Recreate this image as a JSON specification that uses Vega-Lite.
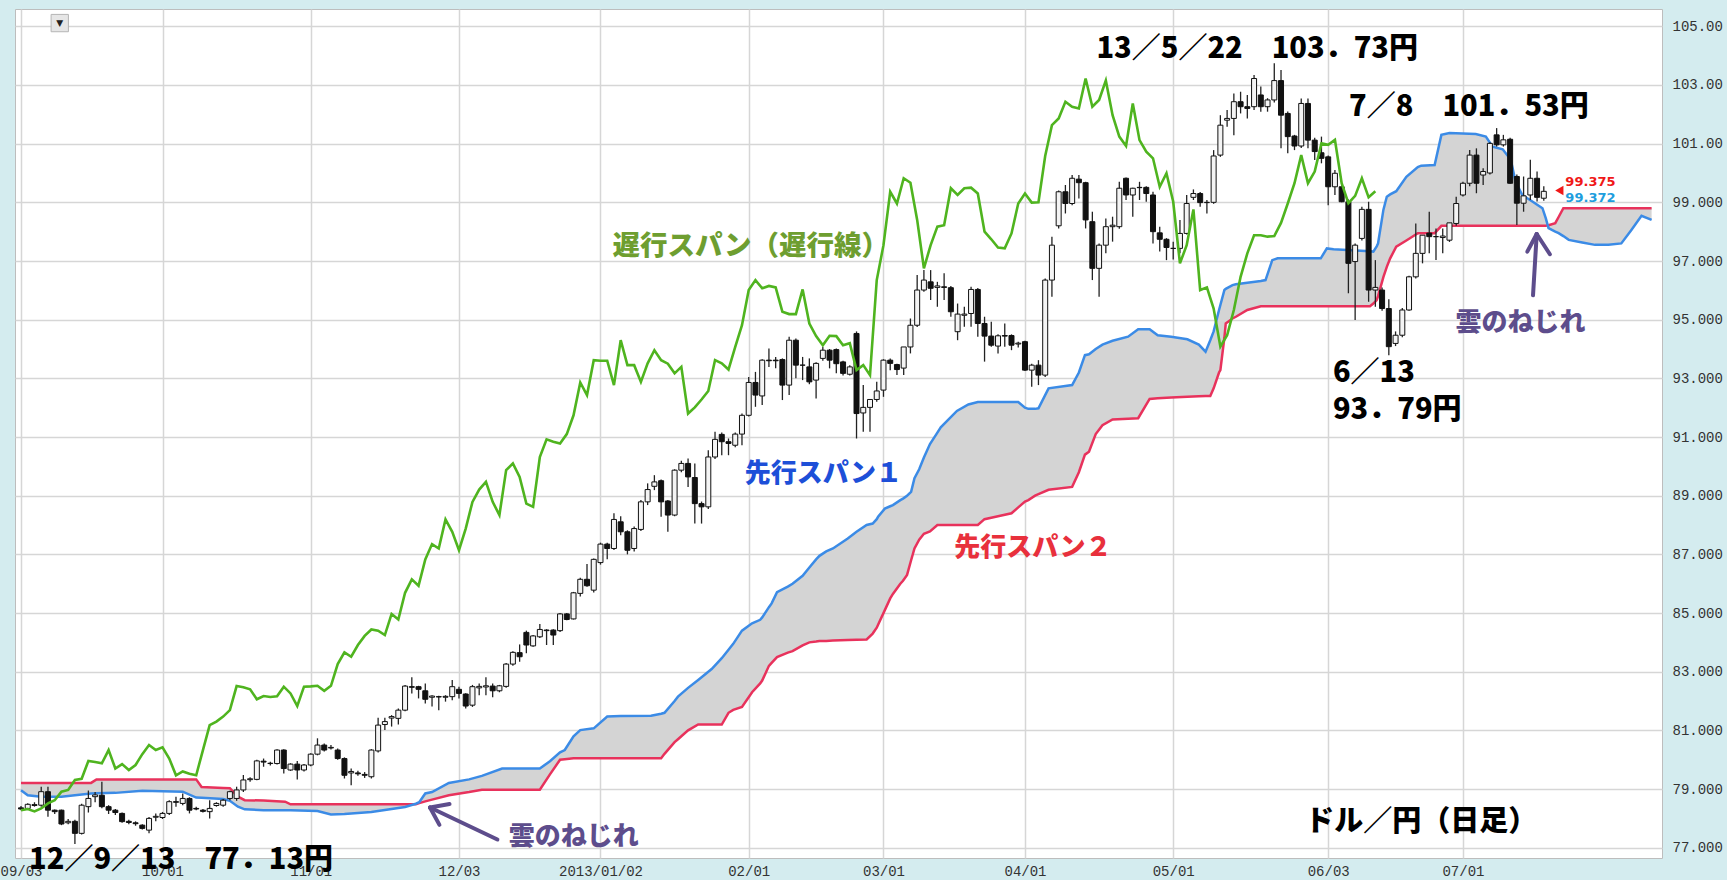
{
"$schema":"https://vega.github.io/schema/vega-lite/v6.json",
"width":1647,"height":849,
"autosize":{"type":"none"},
"padding":{"left":15,"top":9,"right":65,"bottom":22},
"background":"#d4ecef",
"config":{"view":{"fill":"#ffffff","stroke":"#bdbdbd","strokeWidth":1},
 "axisX":{"grid":true,"gridColor":"#d6d6d6","gridWidth":1.5,"domain":false,"ticks":false,"labelFont":"Liberation Mono","labelFontSize":14,"labelColor":"#333333","labelPadding":6,"labelFlush":6,"labelOverlap":false},
 "axisY":{"grid":true,"gridColor":"#d6d6d6","gridWidth":1.5,"domain":false,"ticks":false,"labelFont":"Liberation Mono","labelFontSize":14,"labelColor":"#333333","labelPadding":10,"labelOverlap":false}
},
"datasets":{
"cloud":[
{"i":0,"s1":78.96,"s2":79.21},{"i":1,"s1":78.79,"s2":79.21},{"i":3,"s1":78.74,"s2":79.21},{"i":6,"s1":78.74,"s2":79.21},{"i":8,"s1":78.79,"s2":79.21},{"i":10.4,"s1":78.85,"s2":79.21},{"i":11.2,"s1":78.86,"s2":79.33},{"i":14,"s1":78.87,"s2":79.33},{"i":18,"s1":78.94,"s2":79.33},{"i":24,"s1":78.91,"s2":79.33},{"i":26,"s1":78.71,"s2":79.33},{"i":26.8,"s1":78.70,"s2":79.07},{"i":30,"s1":78.66,"s2":79.04},{"i":31,"s1":78.60,"s2":79.03},{"i":32.2,"s1":78.40,"s2":78.74},{"i":33.2,"s1":78.31,"s2":78.62},{"i":36,"s1":78.28,"s2":78.61},{"i":39.2,"s1":78.28,"s2":78.57},{"i":40,"s1":78.28,"s2":78.48},{"i":44,"s1":78.25,"s2":78.48},{"i":46,"s1":78.13,"s2":78.48},{"i":48,"s1":78.15,"s2":78.48},{"i":52,"s1":78.22,"s2":78.48},{"i":57,"s1":78.39,"s2":78.48},{"i":58.6,"s1":78.50,"s2":78.48},{"i":59.1,"s1":78.55,"s2":78.52},{"i":60,"s1":78.85,"s2":78.58},{"i":61,"s1":78.90,"s2":78.64},{"i":63.5,"s1":79.21,"s2":78.79},{"i":66.5,"s1":79.33,"s2":78.90},{"i":68.4,"s1":79.45,"s2":78.98},{"i":71.4,"s1":79.70,"s2":78.98},{"i":77,"s1":79.70,"s2":78.98},{"i":78.5,"s1":79.95,"s2":79.5},{"i":80,"s1":80.25,"s2":80.0},{"i":80.7,"s1":80.33,"s2":80.02},{"i":82,"s1":80.80,"s2":80.05},{"i":83,"s1":81.01,"s2":80.05},{"i":85,"s1":81.07,"s2":80.05},{"i":87,"s1":81.47,"s2":80.05},{"i":89,"s1":81.49,"s2":80.05},{"i":93.5,"s1":81.50,"s2":80.05},{"i":95,"s1":81.57,"s2":80.05},{"i":95.5,"s1":81.60,"s2":80.2},{"i":97,"s1":82.0,"s2":80.6},{"i":97.5,"s1":82.15,"s2":80.7},{"i":99,"s1":82.45,"s2":81.0},{"i":100.5,"s1":82.72,"s2":81.2},{"i":102.5,"s1":83.09,"s2":81.2},{"i":104,"s1":83.46,"s2":81.2},{"i":105,"s1":83.75,"s2":81.6},{"i":105.7,"s1":83.95,"s2":81.7},{"i":107,"s1":84.40,"s2":81.8},{"i":108.5,"s1":84.65,"s2":82.3},{"i":109.7,"s1":84.77,"s2":82.6},{"i":110,"s1":84.85,"s2":82.7},{"i":111,"s1":85.2,"s2":83.2},{"i":111.4,"s1":85.33,"s2":83.3},{"i":112.2,"s1":85.71,"s2":83.5},{"i":113.8,"s1":85.9,"s2":83.65},{"i":114.5,"s1":86.0,"s2":83.7},{"i":116,"s1":86.27,"s2":83.9},{"i":117,"s1":86.55,"s2":84.0},{"i":118,"s1":86.83,"s2":84.03},{"i":118.5,"s1":86.95,"s2":84.05},{"i":119.5,"s1":87.10,"s2":84.05},{"i":120.5,"s1":87.20,"s2":84.06},{"i":122.7,"s1":87.54,"s2":84.08},{"i":124,"s1":87.77,"s2":84.09},{"i":125.5,"s1":88.0,"s2":84.1},{"i":126.4,"s1":88.05,"s2":84.3},{"i":127,"s1":88.2,"s2":84.5},{"i":127.2,"s1":88.28,"s2":84.6},{"i":128.2,"s1":88.56,"s2":85.1},{"i":129,"s1":88.64,"s2":85.5},{"i":129.4,"s1":88.68,"s2":85.65},{"i":130.5,"s1":88.85,"s2":86.0},{"i":130.9,"s1":88.9,"s2":86.1},{"i":131.5,"s1":89.0,"s2":86.3},{"i":132.1,"s1":89.13,"s2":86.8},{"i":132.6,"s1":89.6,"s2":87.2},{"i":133.3,"s1":89.9,"s2":87.5},{"i":134,"s1":90.3,"s2":87.7},{"i":134.9,"s1":90.76,"s2":87.78},{"i":136,"s1":91.15,"s2":88.0},{"i":136.5,"s1":91.33,"s2":88.0},{"i":138.9,"s1":91.89,"s2":88.0},{"i":140.6,"s1":92.11,"s2":88.0},{"i":142,"s1":92.19,"s2":88.0},{"i":143,"s1":92.19,"s2":88.2},{"i":145,"s1":92.19,"s2":88.3},{"i":147,"s1":92.19,"s2":88.4},{"i":148,"s1":92.19,"s2":88.6},{"i":149,"s1":92.0,"s2":88.8},{"i":149.5,"s1":91.96,"s2":88.85},{"i":150.5,"s1":91.96,"s2":89.0},{"i":151,"s1":91.98,"s2":89.05},{"i":152.5,"s1":92.66,"s2":89.2},{"i":156,"s1":92.77,"s2":89.3},{"i":157,"s1":93.2,"s2":89.8},{"i":157.9,"s1":93.79,"s2":90.4},{"i":158.5,"s1":93.82,"s2":90.5},{"i":159.5,"s1":94.0,"s2":91.1},{"i":160.5,"s1":94.15,"s2":91.4},{"i":162,"s1":94.28,"s2":91.6},{"i":164.3,"s1":94.42,"s2":91.62},{"i":165.8,"s1":94.67,"s2":91.64},{"i":167.5,"s1":94.67,"s2":92.3},{"i":168.7,"s1":94.47,"s2":92.32},{"i":170.7,"s1":94.42,"s2":92.35},{"i":173.1,"s1":94.33,"s2":92.37},{"i":174.8,"s1":94.15,"s2":92.39},{"i":175.8,"s1":93.91,"s2":92.4},{"i":176.5,"s1":94.3,"s2":92.4},{"i":177,"s1":94.6,"s2":92.66},{"i":177.8,"s1":95.33,"s2":93.2},{"i":178,"s1":95.5,"s2":93.28},{"i":178.6,"s1":96.01,"s2":94.4},{"i":178.8,"s1":96.05,"s2":94.87},{"i":179.8,"s1":96.18,"s2":95.04},{"i":180.3,"s1":96.21,"s2":95.1},{"i":182,"s1":96.26,"s2":95.33},{"i":184,"s1":96.32,"s2":95.46},{"i":184.7,"s1":96.35,"s2":95.46},{"i":185.7,"s1":97.03,"s2":95.46},{"i":186.5,"s1":97.09,"s2":95.46},{"i":192.9,"s1":97.09,"s2":95.46},{"i":193.8,"s1":97.43,"s2":95.46},{"i":194.8,"s1":97.40,"s2":95.46},{"i":200.2,"s1":97.33,"s2":95.46},{"i":200.7,"s1":97.32,"s2":95.55},{"i":201.2,"s1":97.5,"s2":95.67},{"i":201.4,"s1":97.6,"s2":95.8},{"i":202.2,"s1":98.75,"s2":96.46},{"i":202.7,"s1":99.19,"s2":96.8},{"i":203.2,"s1":99.27,"s2":97.09},{"i":204.1,"s1":99.38,"s2":97.49},{"i":205.6,"s1":99.87,"s2":97.7},{"i":207.3,"s1":100.2,"s2":97.95},{"i":207.8,"s1":100.25,"s2":97.95},{"i":209.8,"s1":100.27,"s2":97.95},{"i":210.8,"s1":101.3,"s2":98.2},{"i":212,"s1":101.36,"s2":98.2},{"i":215.9,"s1":101.33,"s2":98.2},{"i":217.4,"s1":101.24,"s2":98.2},{"i":218.4,"s1":100.9,"s2":98.2},{"i":219.9,"s1":100.81,"s2":98.2},{"i":221.1,"s1":100.45,"s2":98.2},{"i":221.8,"s1":99.71,"s2":98.2},{"i":222.8,"s1":99.25,"s2":98.2},{"i":224.3,"s1":99.03,"s2":98.2},{"i":225.8,"s1":98.8,"s2":98.2},{"i":226.3,"s1":98.45,"s2":98.2},{"i":226.7,"s1":98.12,"s2":98.22},{"i":227.7,"s1":98.0,"s2":98.29},{"i":228.2,"s1":97.95,"s2":98.5},{"i":228.9,"s1":97.85,"s2":98.8},{"i":229.7,"s1":97.72,"s2":98.8},{"i":231.7,"s1":97.63,"s2":98.8},{"i":233.6,"s1":97.55,"s2":98.8},{"i":235.6,"s1":97.55,"s2":98.8},{"i":237.5,"s1":97.6,"s2":98.8},{"i":239,"s1":98.06,"s2":98.8},{"i":240.5,"s1":98.54,"s2":98.8},{"i":242,"s1":98.4,"s2":98.8}
],
"candles":[
{"i":0,"o":78.36,"h":78.42,"l":78.28,"c":78.32},{"i":1,"o":78.34,"h":78.52,"l":78.30,"c":78.48},{"i":2,"o":78.44,"h":78.55,"l":78.40,"c":78.47},{"i":3,"o":78.45,"h":79.08,"l":78.40,"c":78.91},{"i":4,"o":78.91,"h":79.08,"l":78.06,"c":78.28},{"i":5,"o":78.28,"h":78.30,"l":78.15,"c":78.23},{"i":6,"o":78.28,"h":78.30,"l":77.77,"c":77.81},{"i":7,"o":77.85,"h":77.98,"l":77.80,"c":77.90},{"i":8,"o":77.90,"h":77.95,"l":77.13,"c":77.49},{"i":9,"o":77.49,"h":78.50,"l":77.45,"c":78.45},
{"i":10,"o":78.40,"h":78.95,"l":78.20,"c":78.68},{"i":11,"o":78.74,"h":78.90,"l":78.55,"c":78.80},{"i":12,"o":78.79,"h":79.25,"l":78.35,"c":78.40},{"i":13,"o":78.40,"h":78.45,"l":78.15,"c":78.28},{"i":14,"o":78.28,"h":78.32,"l":78.12,"c":78.20},{"i":15,"o":78.17,"h":78.20,"l":77.85,"c":77.89},{"i":16,"o":77.90,"h":77.95,"l":77.80,"c":77.86},{"i":17,"o":77.85,"h":77.90,"l":77.75,"c":77.82},{"i":18,"o":77.77,"h":77.80,"l":77.62,"c":77.66},{"i":19,"o":77.60,"h":78.05,"l":77.49,"c":78.00},
{"i":20,"o":78.04,"h":78.17,"l":77.90,"c":78.07},{"i":21,"o":78.03,"h":78.22,"l":77.98,"c":78.17},{"i":22,"o":78.17,"h":78.62,"l":78.12,"c":78.57},{"i":23,"o":78.57,"h":78.74,"l":78.40,"c":78.55},{"i":24,"o":78.51,"h":78.85,"l":78.45,"c":78.68},{"i":25,"o":78.68,"h":78.72,"l":78.17,"c":78.28},{"i":26,"o":78.34,"h":78.40,"l":78.28,"c":78.32},{"i":27,"o":78.28,"h":78.32,"l":78.20,"c":78.24},{"i":28,"o":78.23,"h":78.62,"l":78.00,"c":78.34},{"i":29,"o":78.44,"h":78.55,"l":78.40,"c":78.51},
{"i":30,"o":78.45,"h":78.66,"l":78.40,"c":78.62},{"i":31,"o":78.68,"h":78.94,"l":78.62,"c":78.91},{"i":32,"o":78.68,"h":79.08,"l":78.60,"c":78.97},{"i":33,"o":78.97,"h":79.48,"l":78.90,"c":79.31},{"i":34,"o":79.32,"h":79.40,"l":79.25,"c":79.35},{"i":35,"o":79.33,"h":80.00,"l":79.30,"c":79.96},{"i":36,"o":79.95,"h":80.04,"l":79.76,"c":79.92},{"i":37,"o":79.87,"h":79.93,"l":79.80,"c":79.88},{"i":38,"o":79.87,"h":80.36,"l":79.84,"c":80.33},{"i":39,"o":80.33,"h":80.36,"l":79.53,"c":79.70},
{"i":40,"o":79.65,"h":79.88,"l":79.62,"c":79.85},{"i":41,"o":79.85,"h":79.96,"l":79.33,"c":79.65},{"i":42,"o":79.65,"h":79.85,"l":79.60,"c":79.82},{"i":43,"o":79.82,"h":80.22,"l":79.78,"c":80.19},{"i":44,"o":80.19,"h":80.73,"l":80.15,"c":80.50},{"i":45,"o":80.50,"h":80.55,"l":80.28,"c":80.33},{"i":46,"o":80.40,"h":80.50,"l":80.35,"c":80.42},{"i":47,"o":80.33,"h":80.38,"l":80.00,"c":80.04},{"i":48,"o":80.04,"h":80.08,"l":79.36,"c":79.47},{"i":49,"o":79.55,"h":79.70,"l":79.13,"c":79.60},
{"i":50,"o":79.55,"h":79.62,"l":79.45,"c":79.52},{"i":51,"o":79.50,"h":79.58,"l":79.38,"c":79.47},{"i":52,"o":79.42,"h":80.36,"l":79.36,"c":80.33},{"i":53,"o":80.30,"h":81.43,"l":80.25,"c":81.18},{"i":54,"o":81.20,"h":81.43,"l":81.01,"c":81.30},{"i":55,"o":81.42,"h":81.52,"l":81.13,"c":81.47},{"i":56,"o":81.41,"h":81.75,"l":81.20,"c":81.69},{"i":57,"o":81.69,"h":82.55,"l":81.65,"c":82.51},{"i":58,"o":82.49,"h":82.81,"l":82.26,"c":82.47},{"i":59,"o":82.49,"h":82.52,"l":82.09,"c":82.40},
{"i":60,"o":82.35,"h":82.60,"l":81.92,"c":82.06},{"i":61,"o":82.13,"h":82.20,"l":81.81,"c":82.17},{"i":62,"o":82.15,"h":82.18,"l":81.69,"c":82.14},{"i":63,"o":82.13,"h":82.20,"l":81.98,"c":82.16},{"i":64,"o":82.15,"h":82.72,"l":82.03,"c":82.49},{"i":65,"o":82.40,"h":82.49,"l":82.09,"c":82.26},{"i":66,"o":82.24,"h":82.27,"l":81.75,"c":81.83},{"i":67,"o":81.86,"h":82.55,"l":81.80,"c":82.49},{"i":68,"o":82.45,"h":82.60,"l":82.20,"c":82.50},{"i":69,"o":82.48,"h":82.81,"l":82.20,"c":82.52},
{"i":70,"o":82.51,"h":82.60,"l":82.13,"c":82.35},{"i":71,"o":82.35,"h":82.55,"l":82.30,"c":82.52},{"i":72,"o":82.50,"h":83.30,"l":82.45,"c":83.26},{"i":73,"o":83.26,"h":83.70,"l":83.20,"c":83.66},{"i":74,"o":83.65,"h":83.93,"l":83.34,"c":83.51},{"i":75,"o":84.34,"h":84.40,"l":83.63,"c":83.91},{"i":76,"o":83.88,"h":84.25,"l":83.85,"c":84.22},{"i":77,"o":84.19,"h":84.63,"l":84.15,"c":84.44},{"i":78,"o":84.42,"h":84.45,"l":83.91,"c":84.40},{"i":79,"o":84.42,"h":84.45,"l":83.91,"c":84.25},
{"i":80,"o":84.40,"h":85.00,"l":84.35,"c":84.97},{"i":81,"o":84.97,"h":85.00,"l":84.75,"c":84.78},{"i":82,"o":84.80,"h":85.72,"l":84.78,"c":85.69},{"i":83,"o":85.67,"h":86.20,"l":85.56,"c":86.15},{"i":84,"o":86.15,"h":86.67,"l":85.90,"c":85.93},{"i":85,"o":85.78,"h":86.86,"l":85.70,"c":86.83},{"i":86,"o":86.72,"h":87.40,"l":86.65,"c":87.35},{"i":87,"o":87.35,"h":87.40,"l":86.83,"c":87.20},{"i":88,"o":87.20,"h":88.40,"l":87.15,"c":88.19},{"i":89,"o":88.11,"h":88.30,"l":87.65,"c":87.77},
{"i":90,"o":87.77,"h":87.82,"l":87.00,"c":87.14},{"i":91,"o":87.20,"h":87.95,"l":87.10,"c":87.88},{"i":92,"o":87.85,"h":88.85,"l":87.80,"c":88.79},{"i":93,"o":88.79,"h":89.42,"l":88.68,"c":89.21},{"i":94,"o":89.32,"h":89.70,"l":89.19,"c":89.47},{"i":95,"o":89.51,"h":89.55,"l":88.28,"c":88.79},{"i":96,"o":88.82,"h":88.85,"l":87.77,"c":88.34},{"i":97,"o":88.34,"h":89.90,"l":88.30,"c":89.87},{"i":98,"o":89.87,"h":90.19,"l":89.80,"c":90.10},{"i":99,"o":90.10,"h":90.27,"l":89.30,"c":89.64},
{"i":100,"o":89.62,"h":90.10,"l":88.05,"c":88.73},{"i":101,"o":88.73,"h":88.80,"l":88.05,"c":88.62},{"i":102,"o":88.62,"h":90.55,"l":88.55,"c":90.32},{"i":103,"o":90.32,"h":91.18,"l":90.25,"c":90.92},{"i":104,"o":91.09,"h":91.15,"l":90.38,"c":90.84},{"i":105,"o":90.84,"h":90.95,"l":90.38,"c":90.78},{"i":106,"o":90.72,"h":91.15,"l":90.65,"c":91.10},{"i":107,"o":91.10,"h":91.80,"l":90.72,"c":91.74},{"i":108,"o":91.74,"h":93.05,"l":91.70,"c":92.86},{"i":109,"o":92.86,"h":93.22,"l":92.03,"c":92.43},
{"i":110,"o":92.40,"h":93.65,"l":92.09,"c":93.62},{"i":111,"o":93.62,"h":94.02,"l":93.39,"c":93.60},{"i":112,"o":93.62,"h":93.73,"l":93.34,"c":93.60},{"i":113,"o":93.64,"h":93.68,"l":92.26,"c":92.77},{"i":114,"o":92.77,"h":94.42,"l":92.43,"c":94.30},{"i":115,"o":94.30,"h":94.36,"l":93.00,"c":93.45},{"i":116,"o":93.45,"h":93.73,"l":92.94,"c":93.45},{"i":117,"o":93.39,"h":93.68,"l":92.80,"c":92.88},{"i":118,"o":92.94,"h":93.55,"l":92.31,"c":93.51},{"i":119,"o":93.68,"h":94.07,"l":93.60,"c":93.96},
{"i":120,"o":93.96,"h":94.00,"l":93.34,"c":93.62},{"i":121,"o":93.98,"h":94.02,"l":93.17,"c":93.50},{"i":122,"o":93.56,"h":93.60,"l":93.10,"c":93.17},{"i":123,"o":93.14,"h":93.45,"l":93.10,"c":93.39},{"i":124,"o":94.53,"h":94.60,"l":90.95,"c":91.80},{"i":125,"o":91.82,"h":92.77,"l":91.18,"c":92.01},{"i":126,"o":92.01,"h":92.30,"l":91.18,"c":92.28},{"i":127,"o":92.28,"h":92.88,"l":92.20,"c":92.57},{"i":128,"o":92.60,"h":93.65,"l":92.37,"c":93.62},{"i":129,"o":93.62,"h":93.68,"l":93.28,"c":93.51},
{"i":130,"o":93.47,"h":93.50,"l":93.11,"c":93.30},{"i":131,"o":93.35,"h":94.07,"l":93.11,"c":94.07},{"i":132,"o":94.07,"h":95.04,"l":93.85,"c":94.81},{"i":133,"o":94.81,"h":96.52,"l":94.75,"c":96.01},{"i":134,"o":96.01,"h":96.69,"l":95.95,"c":96.35},{"i":135,"o":96.29,"h":96.69,"l":95.67,"c":96.07},{"i":136,"o":96.10,"h":96.29,"l":95.44,"c":96.15},{"i":137,"o":96.12,"h":96.58,"l":95.67,"c":96.10},{"i":138,"o":96.09,"h":96.15,"l":95.10,"c":95.27},{"i":139,"o":94.59,"h":95.55,"l":94.30,"c":95.19},
{"i":140,"o":95.15,"h":95.44,"l":94.76,"c":95.19},{"i":141,"o":95.21,"h":96.12,"l":94.76,"c":96.03},{"i":142,"o":96.03,"h":96.08,"l":94.42,"c":94.87},{"i":143,"o":94.87,"h":95.10,"l":93.57,"c":94.44},{"i":144,"o":94.44,"h":94.93,"l":94.08,"c":94.13},{"i":145,"o":94.10,"h":94.50,"l":93.85,"c":94.45},{"i":146,"o":94.46,"h":94.87,"l":94.08,"c":94.44},{"i":147,"o":94.46,"h":94.50,"l":93.96,"c":94.13},{"i":148,"o":94.17,"h":94.25,"l":94.05,"c":94.20},{"i":149,"o":94.25,"h":94.28,"l":93.25,"c":93.28},
{"i":150,"o":93.28,"h":93.50,"l":92.71,"c":93.45},{"i":151,"o":93.45,"h":93.62,"l":92.77,"c":93.11},{"i":152,"o":93.11,"h":96.40,"l":93.05,"c":96.35},{"i":153,"o":96.35,"h":97.83,"l":95.78,"c":97.54},{"i":154,"o":98.20,"h":99.40,"l":98.11,"c":99.36},{"i":155,"o":99.36,"h":99.59,"l":98.62,"c":98.96},{"i":156,"o":98.96,"h":99.93,"l":98.90,"c":99.82},{"i":157,"o":99.79,"h":99.93,"l":99.13,"c":99.67},{"i":158,"o":99.67,"h":99.70,"l":98.11,"c":98.40},{"i":159,"o":98.34,"h":98.68,"l":96.35,"c":96.75},
{"i":160,"o":96.75,"h":97.60,"l":95.78,"c":97.54},{"i":161,"o":97.54,"h":98.45,"l":97.26,"c":98.17},{"i":162,"o":98.17,"h":98.51,"l":97.66,"c":98.22},{"i":163,"o":98.17,"h":99.70,"l":98.10,"c":99.48},{"i":164,"o":99.82,"h":99.85,"l":99.08,"c":99.25},{"i":165,"o":99.25,"h":99.50,"l":98.51,"c":99.48},{"i":166,"o":99.51,"h":99.70,"l":99.08,"c":99.50},{"i":167,"o":99.51,"h":99.55,"l":99.02,"c":99.30},{"i":168,"o":99.25,"h":99.36,"l":97.60,"c":98.00},{"i":169,"o":97.96,"h":98.17,"l":97.32,"c":97.74},
{"i":170,"o":97.74,"h":97.78,"l":97.03,"c":97.46},{"i":171,"o":97.43,"h":97.66,"l":97.05,"c":97.43},{"i":172,"o":97.43,"h":98.40,"l":97.26,"c":97.94},{"i":173,"o":97.94,"h":99.25,"l":97.90,"c":98.96},{"i":174,"o":99.17,"h":99.44,"l":99.08,"c":99.30},{"i":175,"o":99.30,"h":99.35,"l":98.85,"c":98.99},{"i":176,"o":98.99,"h":99.08,"l":98.62,"c":99.00},{"i":177,"o":99.00,"h":100.78,"l":98.95,"c":100.58},{"i":178,"o":100.61,"h":101.97,"l":100.55,"c":101.63},{"i":179,"o":101.80,"h":102.15,"l":101.58,"c":101.86},
{"i":180,"o":101.86,"h":102.71,"l":101.29,"c":102.43},{"i":181,"o":102.43,"h":102.77,"l":102.03,"c":102.26},{"i":182,"o":102.26,"h":102.66,"l":101.86,"c":102.20},{"i":183,"o":102.26,"h":103.34,"l":102.15,"c":103.22},{"i":184,"o":102.66,"h":102.95,"l":102.09,"c":102.26},{"i":185,"o":102.26,"h":102.55,"l":102.09,"c":102.49},{"i":186,"o":102.49,"h":103.74,"l":102.40,"c":103.15},{"i":187,"o":103.15,"h":103.51,"l":100.84,"c":101.97},{"i":188,"o":102.03,"h":102.10,"l":100.67,"c":101.24},{"i":189,"o":101.26,"h":101.30,"l":100.78,"c":100.92},
{"i":190,"o":100.92,"h":102.54,"l":100.85,"c":102.37},{"i":191,"o":102.37,"h":102.54,"l":100.84,"c":101.12},{"i":192,"o":101.12,"h":101.20,"l":100.44,"c":100.73},{"i":193,"o":100.69,"h":101.24,"l":100.33,"c":100.50},{"i":194,"o":100.55,"h":100.60,"l":98.90,"c":99.53},{"i":195,"o":99.53,"h":100.10,"l":99.25,"c":99.99},{"i":196,"o":99.53,"h":99.60,"l":99.00,"c":99.02},{"i":197,"o":99.02,"h":99.10,"l":95.90,"c":96.92},{"i":198,"o":96.98,"h":97.60,"l":94.99,"c":97.54},{"i":199,"o":97.77,"h":98.85,"l":97.70,"c":98.76},
{"i":200,"o":98.76,"h":99.02,"l":95.61,"c":96.01},{"i":201,"o":96.01,"h":97.03,"l":95.44,"c":96.10},{"i":202,"o":96.01,"h":96.10,"l":95.30,"c":95.38},{"i":203,"o":95.38,"h":95.70,"l":93.79,"c":94.08},{"i":204,"o":94.19,"h":94.60,"l":94.10,"c":94.47},{"i":205,"o":94.47,"h":95.40,"l":94.40,"c":95.33},{"i":206,"o":95.33,"h":96.50,"l":95.30,"c":96.46},{"i":207,"o":96.46,"h":98.28,"l":96.40,"c":97.26},{"i":208,"o":97.26,"h":97.88,"l":96.92,"c":97.88},{"i":209,"o":97.95,"h":98.68,"l":97.26,"c":97.83},
{"i":210,"o":97.83,"h":98.11,"l":97.03,"c":97.83},{"i":211,"o":97.80,"h":98.11,"l":97.26,"c":97.85},{"i":212,"o":97.71,"h":98.30,"l":97.65,"c":98.30},{"i":213,"o":98.28,"h":99.19,"l":98.20,"c":98.96},{"i":214,"o":99.25,"h":99.70,"l":99.20,"c":99.65},{"i":215,"o":99.65,"h":100.78,"l":99.55,"c":100.61},{"i":216,"o":100.61,"h":100.84,"l":99.31,"c":99.65},{"i":217,"o":99.93,"h":100.16,"l":99.59,"c":100.05},{"i":218,"o":100.00,"h":101.05,"l":99.95,"c":101.01},{"i":219,"o":101.30,"h":101.53,"l":100.90,"c":100.96},
{"i":220,"o":100.96,"h":101.30,"l":100.90,"c":101.13},{"i":221,"o":101.15,"h":101.20,"l":99.63,"c":99.65},{"i":222,"o":99.88,"h":99.95,"l":98.23,"c":98.97},{"i":223,"o":98.97,"h":99.88,"l":98.68,"c":99.22},{"i":224,"o":99.25,"h":100.45,"l":99.08,"c":99.82},{"i":225,"o":99.82,"h":100.05,"l":99.03,"c":99.17},{"i":226,"o":99.14,"h":99.55,"l":99.05,"c":99.375}
],
"lag":[
{"i":0,"v":78.28},{"i":1,"v":78.32},{"i":2,"v":78.24},{"i":3,"v":78.34},{"i":4,"v":78.51},{"i":5,"v":78.62},{"i":6,"v":78.91},{"i":7,"v":78.97},{"i":8,"v":79.31},{"i":9,"v":79.35},{"i":10,"v":79.96},{"i":11,"v":79.92},{"i":12,"v":79.88},{"i":13,"v":80.33},{"i":14,"v":79.70},{"i":15,"v":79.85},{"i":16,"v":79.65},{"i":17,"v":79.82},{"i":18,"v":80.19},{"i":19,"v":80.50},{"i":20,"v":80.33},{"i":21,"v":80.42},{"i":22,"v":80.04},{"i":23,"v":79.47},{"i":24,"v":79.60},{"i":25,"v":79.52},{"i":26,"v":79.47},{"i":27,"v":80.33},{"i":28,"v":81.18},{"i":29,"v":81.30},{"i":30,"v":81.47},{"i":31,"v":81.69},{"i":32,"v":82.51},{"i":33,"v":82.47},{"i":34,"v":82.40},{"i":35,"v":82.06},{"i":36,"v":82.17},{"i":37,"v":82.14},{"i":38,"v":82.16},{"i":39,"v":82.49},{"i":40,"v":82.26},{"i":41,"v":81.83},{"i":42,"v":82.49},{"i":43,"v":82.50},{"i":44,"v":82.52},{"i":45,"v":82.35},{"i":46,"v":82.52},{"i":47,"v":83.26},{"i":48,"v":83.66},{"i":49,"v":83.51},{"i":50,"v":83.91},{"i":51,"v":84.22},{"i":52,"v":84.44},{"i":53,"v":84.40},{"i":54,"v":84.25},{"i":55,"v":84.97},{"i":56,"v":84.78},{"i":57,"v":85.69},{"i":58,"v":86.15},{"i":59,"v":85.93},{"i":60,"v":86.83},{"i":61,"v":87.35},{"i":62,"v":87.20},{"i":63,"v":88.19},{"i":64,"v":87.77},{"i":65,"v":87.14},{"i":66,"v":87.88},{"i":67,"v":88.79},{"i":68,"v":89.21},{"i":69,"v":89.47},{"i":70,"v":88.79},{"i":71,"v":88.34},{"i":72,"v":89.87},{"i":73,"v":90.10},{"i":74,"v":89.64},{"i":75,"v":88.73},{"i":76,"v":88.62},{"i":77,"v":90.32},{"i":78,"v":90.92},{"i":79,"v":90.84},{"i":80,"v":90.78},{"i":81,"v":91.10},{"i":82,"v":91.74},{"i":83,"v":92.86},{"i":84,"v":92.43},{"i":85,"v":93.62},{"i":86,"v":93.60},{"i":87,"v":93.60},{"i":88,"v":92.77},{"i":89,"v":94.30},{"i":90,"v":93.45},{"i":91,"v":93.45},{"i":92,"v":92.88},{"i":93,"v":93.51},{"i":94,"v":93.96},{"i":95,"v":93.62},{"i":96,"v":93.50},{"i":97,"v":93.17},{"i":98,"v":93.39},{"i":99,"v":91.80},{"i":100,"v":92.01},{"i":101,"v":92.28},{"i":102,"v":92.57},{"i":103,"v":93.62},{"i":104,"v":93.51},{"i":105,"v":93.30},{"i":106,"v":94.07},{"i":107,"v":94.81},{"i":108,"v":96.01},{"i":109,"v":96.35},{"i":110,"v":96.07},{"i":111,"v":96.15},{"i":112,"v":96.10},{"i":113,"v":95.27},{"i":114,"v":95.19},{"i":115,"v":95.19},{"i":116,"v":96.03},{"i":117,"v":94.87},{"i":118,"v":94.44},{"i":119,"v":94.13},{"i":120,"v":94.45},{"i":121,"v":94.44},{"i":122,"v":94.13},{"i":123,"v":94.20},{"i":124,"v":93.28},{"i":125,"v":93.45},{"i":126,"v":93.11},{"i":127,"v":96.35},{"i":128,"v":97.54},{"i":129,"v":99.36},{"i":130,"v":98.96},{"i":131,"v":99.82},{"i":132,"v":99.67},{"i":133,"v":98.40},{"i":134,"v":96.75},{"i":135,"v":97.54},{"i":136,"v":98.17},{"i":137,"v":98.22},{"i":138,"v":99.48},{"i":139,"v":99.25},{"i":140,"v":99.48},{"i":141,"v":99.50},{"i":142,"v":99.30},{"i":143,"v":98.00},{"i":144,"v":97.74},{"i":145,"v":97.46},{"i":146,"v":97.43},{"i":147,"v":97.94},{"i":148,"v":98.96},{"i":149,"v":99.30},{"i":150,"v":98.99},{"i":151,"v":99.00},{"i":152,"v":100.58},{"i":153,"v":101.63},{"i":154,"v":101.86},{"i":155,"v":102.43},{"i":156,"v":102.26},{"i":157,"v":102.20},{"i":158,"v":103.22},{"i":159,"v":102.26},{"i":160,"v":102.49},{"i":161,"v":103.15},{"i":162,"v":101.97},{"i":163,"v":101.24},{"i":164,"v":100.92},{"i":165,"v":102.37},{"i":166,"v":101.12},{"i":167,"v":100.73},{"i":168,"v":100.50},{"i":169,"v":99.53},{"i":170,"v":99.99},{"i":171,"v":99.02},{"i":172,"v":96.92},{"i":173,"v":97.54},{"i":174,"v":98.76},{"i":175,"v":96.01},{"i":176,"v":96.10},{"i":177,"v":95.38},{"i":178,"v":94.08},{"i":179,"v":94.47},{"i":180,"v":95.33},{"i":181,"v":96.46},{"i":182,"v":97.26},{"i":183,"v":97.88},{"i":184,"v":97.88},{"i":185,"v":97.83},{"i":186,"v":97.85},{"i":187,"v":98.30},{"i":188,"v":98.96},{"i":189,"v":99.65},{"i":190,"v":100.61},{"i":191,"v":99.65},{"i":192,"v":100.05},{"i":193,"v":101.01},{"i":194,"v":100.96},{"i":195,"v":101.13},{"i":196,"v":99.65},{"i":197,"v":98.97},{"i":198,"v":99.22},{"i":199,"v":99.82},{"i":200,"v":99.17},{"i":201,"v":99.375}
]
},
"layer":[
{"data":{"name":"cloud"},"mark":{"type":"area","color":"#d4d4d4","opacity":1},
 "encoding":{
  "x":{"field":"i","type":"quantitative","title":null,"scale":{"domain":[-0.15,242.8],"nice":false,"zero":false},
   "axis":{"orient":"bottom","values":[0,21,43,65,86,108,128,149,171,194,214],"labelExpr":"datum.value==0?'09/03':datum.value==21?'10/01':datum.value==43?'11/01':datum.value==65?'12/03':datum.value==86?'2013/01/02':datum.value==108?'02/01':datum.value==128?'03/01':datum.value==149?'04/01':datum.value==171?'05/01':datum.value==194?'06/03':'07/01'"}},
  "y":{"field":"s1","type":"quantitative","title":null,"scale":{"domain":[76.65,105.59],"nice":false,"zero":false},
   "axis":{"orient":"right","values":[77,79,81,83,85,87,89,91,93,95,97,99,101,103,105],"labelExpr":"datum.value>=100?format(datum.value,'.2f'):format(datum.value,'.3f')"}},
  "y2":{"field":"s2"}}},
{"data":{"name":"cloud"},"mark":{"type":"line","color":"#e8325c","strokeWidth":2.5},
 "encoding":{"x":{"field":"i","type":"quantitative","title":null},"y":{"field":"s2","type":"quantitative","title":null}}},
{"data":{"name":"cloud"},"mark":{"type":"line","color":"#3b8be6","strokeWidth":2.5},
 "encoding":{"x":{"field":"i","type":"quantitative","title":null},"y":{"field":"s1","type":"quantitative","title":null}}},
{"data":{"name":"candles"},"mark":{"type":"rule","color":"#222222","strokeWidth":1.3},
 "encoding":{"x":{"field":"i","type":"quantitative","title":null},"y":{"field":"l","type":"quantitative","title":null},"y2":{"field":"h"}}},
{"data":{"name":"candles"},"mark":{"type":"bar","size":5,"stroke":"#111111","strokeWidth":1},
 "encoding":{"x":{"field":"i","type":"quantitative","title":null},"y":{"field":"o","type":"quantitative","title":null},"y2":{"field":"c"},
  "fill":{"condition":{"test":"datum.c>=datum.o","value":"#f4f4f4"},"value":"#111111"}}},
{"data":{"name":"lag"},"mark":{"type":"line","color":"#4fb41f","strokeWidth":2.6},
 "encoding":{"x":{"field":"i","type":"quantitative","title":null},"y":{"field":"v","type":"quantitative","title":null}}},
{"data":{"values":[
 {"x":60.7,"y":78.37,"x2":70.7,"y2":77.28},{"x":60.7,"y":78.37,"x2":62.1,"y2":77.78},{"x":60.7,"y":78.37,"x2":63.6,"y2":78.49},
 {"x":224.95,"y":97.92,"x2":224.4,"y2":95.83},{"x":224.95,"y":97.92,"x2":223.55,"y2":97.32},{"x":224.95,"y":97.92,"x2":226.9,"y2":97.23}]},
 "mark":{"type":"rule","color":"#5d4d8c","strokeWidth":4,"strokeCap":"round"},
 "encoding":{"x":{"field":"x","type":"quantitative","title":null},"y":{"field":"y","type":"quantitative","title":null},"x2":{"field":"x2"},"y2":{"field":"y2"}}},
{"data":{"values":[
 {"x":159.6,"y":104.24,"t":"13／5／22　103．73円"},
 {"x":197.1,"y":102.26,"t":"7／8　101．53円"},
 {"x":1.2,"y":76.58,"t":"12／9／13　77．13円"},
 {"x":194.7,"y":93.17,"t":"6／13"},
 {"x":194.7,"y":91.93,"t":"93．79円"},
 {"x":190.6,"y":77.89,"t":"ドル／円（日足）"}]},
 "mark":{"type":"text","align":"left","baseline":"middle","font":"Noto Sans CJK JP","fontWeight":900,"fontSize":29,"color":"#000000"},
 "encoding":{"x":{"field":"x","type":"quantitative","title":null},"y":{"field":"y","type":"quantitative","title":null},"text":{"field":"t"}}},
{"data":{"values":[{"x":87.8,"y":97.49,"t":"遅行スパン（遅行線）"}]},
 "mark":{"type":"text","align":"left","baseline":"middle","font":"Noto Sans CJK JP","fontWeight":900,"fontSize":27.5,"color":"#6e9e30"},
 "encoding":{"x":{"field":"x","type":"quantitative","title":null},"y":{"field":"y","type":"quantitative","title":null},"text":{"field":"t"}}},
{"data":{"values":[{"x":107.4,"y":89.75,"t":"先行スパン１"}]},
 "mark":{"type":"text","align":"left","baseline":"middle","font":"Noto Sans CJK JP","fontWeight":900,"fontSize":26,"color":"#1d4fd8"},
 "encoding":{"x":{"field":"x","type":"quantitative","title":null},"y":{"field":"y","type":"quantitative","title":null},"text":{"field":"t"}}},
{"data":{"values":[{"x":138.5,"y":87.2,"t":"先行スパン２"}]},
 "mark":{"type":"text","align":"left","baseline":"middle","font":"Noto Sans CJK JP","fontWeight":900,"fontSize":26,"color":"#e8303c"},
 "encoding":{"x":{"field":"x","type":"quantitative","title":null},"y":{"field":"y","type":"quantitative","title":null},"text":{"field":"t"}}},
{"data":{"values":[{"x":212.9,"y":94.9,"t":"雲のねじれ"},{"x":72.4,"y":77.36,"t":"雲のねじれ"}]},
 "mark":{"type":"text","align":"left","baseline":"middle","font":"Noto Sans CJK JP","fontWeight":900,"fontSize":26,"color":"#5d4d8c"},
 "encoding":{"x":{"field":"x","type":"quantitative","title":null},"y":{"field":"y","type":"quantitative","title":null},"text":{"field":"t"}}},
{"data":{"values":[{"x":229.2,"y":99.70,"t":"99.375"}]},
 "mark":{"type":"text","align":"left","baseline":"middle","font":"DejaVu Sans","fontWeight":"bold","fontSize":13,"color":"#f01818"},
 "encoding":{"x":{"field":"x","type":"quantitative","title":null},"y":{"field":"y","type":"quantitative","title":null},"text":{"field":"t"}}},
{"data":{"values":[{"x":229.2,"y":99.14,"t":"99.372"}]},
 "mark":{"type":"text","align":"left","baseline":"middle","font":"DejaVu Sans","fontWeight":"bold","fontSize":13,"color":"#1e9ede"},
 "encoding":{"x":{"field":"x","type":"quantitative","title":null},"y":{"field":"y","type":"quantitative","title":null},"text":{"field":"t"}}},
{"data":{"values":[{"x":228.3,"y":99.40}]},
 "mark":{"type":"point","shape":"triangle-left","size":90,"filled":true,"color":"#f01818","opacity":1},
 "encoding":{"x":{"field":"x","type":"quantitative","title":null},"y":{"field":"y","type":"quantitative","title":null}}},
{"data":{"values":[{"x":5.75,"y":105.11}]},
 "mark":{"type":"point","shape":"square","size":300,"filled":true,"fill":"#e6e6e6","stroke":"#b5b5b5","strokeWidth":1,"opacity":1},
 "encoding":{"x":{"field":"x","type":"quantitative","title":null},"y":{"field":"y","type":"quantitative","title":null}}},
{"data":{"values":[{"x":5.75,"y":105.11,"t":"▼"}]},
 "mark":{"type":"text","align":"center","baseline":"middle","font":"DejaVu Sans","fontSize":9,"color":"#222222"},
 "encoding":{"x":{"field":"x","type":"quantitative","title":null},"y":{"field":"y","type":"quantitative","title":null},"text":{"field":"t"}}}
]
}
